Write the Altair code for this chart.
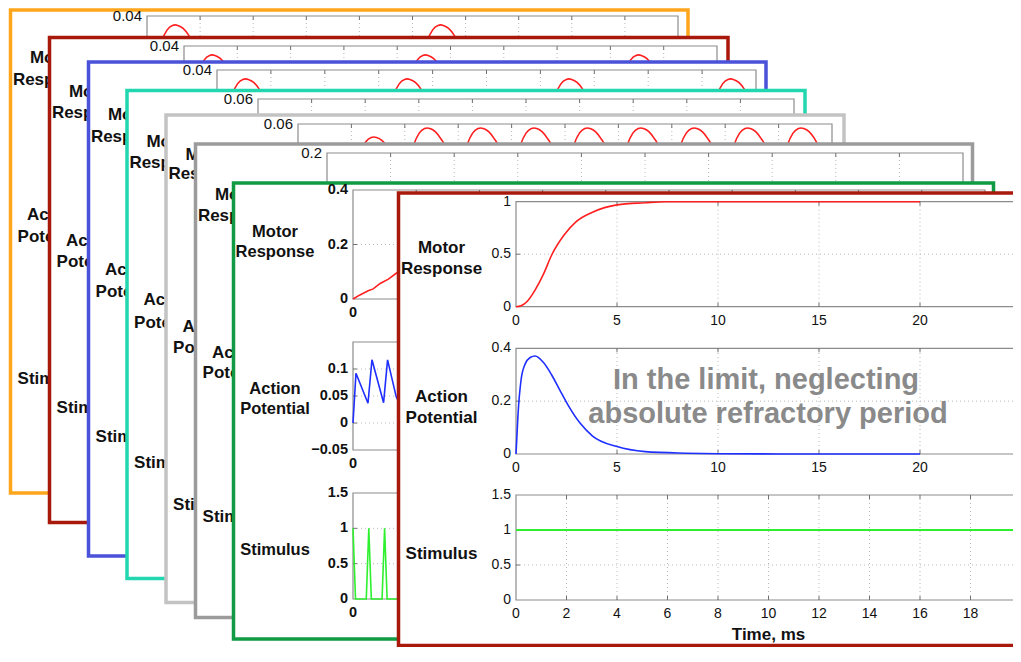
import altair as alt
import pandas as pd

FONT = "Liberation Sans"
TEXT = "#111111"
BOX = "#8c8c8c"
GRID = "#b8b8b8"
TICK = "#707070"
RED, BLUE, GREEN = "#ff1f1f", "#1f2fff", "#2ef02e"
NOTE = "#8a8a8a"

# ================= values =================
# Front card: the limit case (continuous stimulation), time in ms
FRONT_MOTOR_T = [0, 0.25, 0.55, 0.95, 1.36, 1.76, 2.37, 2.98, 3.79, 5.0, 6.4, 7.4, 10, 15, 20]
FRONT_MOTOR_V = [0, 0.01, 0.05, 0.16, 0.31, 0.49, 0.68, 0.81, 0.90, 0.97, 0.99, 1.0, 1.0, 1.0, 1.0]
FRONT_AP_T = [0, 0.1, 0.25, 0.45, 0.7, 0.95, 1.36, 1.76, 2.17, 2.57, 3.18, 3.79, 5.0, 6.4, 8.4, 10, 15, 20]
FRONT_AP_V = [0, 0.15, 0.28, 0.34, 0.365, 0.371, 0.346, 0.30, 0.242, 0.186, 0.116, 0.068, 0.028,
              0.009, 0.003, 0.001, 0, 0]
FRONT_STIM_T = [0, 20]
FRONT_STIM_V = [1, 1]
FRONT_X_TICKS = [0, 5, 10, 15, 20, 25]
FRONT_STIM_X_TICKS = [0, 2, 4, 6, 8, 10, 12, 14, 16, 18, 20]
FRONT_MOTOR_Y_TICKS = [0, 0.5, 1]
FRONT_AP_Y_TICKS = [0, 0.2, 0.4]
STIM_Y_TICKS = [0, 0.5, 1, 1.5]
TIME_TITLE = "Time, ms"
NOTE_LINES = ["In the limit, neglecting", "absolute refractory period"]

# Green card: stimulation every ~2.5 ms (only the first ms are visible)
GREEN_MOTOR_T = [0, 1.1, 2.4, 3.2, 4.3, 5.6, 7.0, 8.5, 10]
GREEN_MOTOR_V = [0, 0.015, 0.03, 0.037, 0.057, 0.073, 0.097, 0.112, 0.135]
GREEN_AP_T = [0, 0.47, 2.37, 3.0, 4.84, 5.47, 6.85, 7.35, 8.0, 9.85]
GREEN_AP_V = [0, 0.092, 0.0365, 0.117, 0.0376, 0.117, 0.048, 0.037, 0.117, 0.037]
GREEN_STIM_T = [0, 0.4, 2.1, 2.5, 2.9, 4.6, 5.0, 5.4, 7.1, 7.5, 7.9, 9.6, 10.0, 10.4]
GREEN_STIM_V = [1, 0, 0, 1, 0, 0, 1, 0, 0, 1, 0, 0, 1, 0]
GREEN_MOTOR_Y_TICKS = [0, 0.2, 0.4]
GREEN_AP_Y_TICKS = [-0.05, 0, 0.05, 0.1]
BG_X_TICKS = [0, 10, 20, 30, 40, 50, 60, 70, 80, 90, 100]
BG_X_LABELS = [0]          # only the first label is not hidden by the card in front

# Back cards 1-6: motor-response twitches (only their tops show)
TWITCH_OFFSET = [-5.5, -4.5, -3.5, -2.5, -1.5, -0.5, 0, 0.5, 1.5, 2.5, 3.5, 4.5, 6.5, 9.5, 14.5, 24.5]
TWITCH_SHAPE = [0, 0.3, 0.62, 0.84, 0.95, 0.995, 1.0, 0.995, 0.965, 0.9, 0.8, 0.68, 0.45, 0.22, 0.06, 0]
CARD1_PEAKS = [5.3, 55.3]
CARD1_HEIGHTS = [0.0367, 0.0367]
CARD2_PEAKS = [5.3, 45.3, 85.3]
CARD2_HEIGHTS = [0.0367, 0.0367, 0.0367]
CARD3_PEAKS = [5.3, 35.3, 65.3, 95.3]
CARD3_HEIGHTS = [0.0367, 0.0367, 0.0367, 0.0367]
CARD5_PEAKS = [4.2, 14.2, 24.2, 34.2, 44.2, 54.2, 64.2, 74.2, 84.2, 94.2]
CARD5_HEIGHTS = [0.035, 0.0528, 0.0578, 0.0578, 0.0578, 0.0578, 0.0578, 0.0578, 0.0578, 0.0578]
CARD_PERIODS = [50, 40, 30, 20, 10, 5]
BG_YMAX = [0.04, 0.04, 0.04, 0.06, 0.06, 0.2]
BG_Y_TICKS = [[0, 0.02, 0.04], [0, 0.02, 0.04], [0, 0.02, 0.04],
              [0, 0.02, 0.04, 0.06], [0, 0.02, 0.04, 0.06], [0, 0.1, 0.2]]
BG_Y_LABELS = [[0.04], [0.04], [0.04], [0.06], [0.06], [0.2]]   # the visible ones

# ================= layout (page pixels) =================
CARD_COLORS = ["#FFA51C", "#A8190B", "#4A52D9", "#22D6B0", "#C3C3C3", "#9B9B9B", "#0F9A43", "#A8190B"]
CARD_L = [10.5, 49.5, 88.5, 127, 166, 195.5, 233.5, 398.5]
CARD_T = [10, 37.5, 62, 90.5, 115, 144, 183, 193]
CARD_R = [688, 728, 766, 805, 844, 972.5, 993.5, 1032]
CARD_B = [493, 522.5, 556, 578.5, 602.5, 617.5, 639, 645.5]
GROUP_TOP = [8, 31, 56, 84, 109, 138, 177, 187]
LAST_H = 460
BG_BOX_L = [147, 184, 217, 258, 298, 327]
BG_BOX_R = [678, 717, 756, 794, 832, 963]
BG_BOX_T = [16, 46, 70, 99, 124, 153]
BG_BOX_H = 108
LABEL_CX = [53.5, 92.5, 131.5, 170, 209, 238.5, 275, 441.5]
MOTOR_Y = [(58, 80), (92, 113), (115, 137), (142, 163), (155, 174), (195, 216), (232, 252), (248, 269)]
ACTION_Y = [(215, 237), (241, 262), (270, 292), (300, 323), (327, 348), (353, 373), (389, 409), (397, 418)]
STIM_Y = [379, 408, 437, 463, 505, 517, 550, 554]
CHART_W = 1005


def one_row():
    return pd.DataFrame({"k": [0]})


def series_df(t, v):
    return pd.DataFrame({"t": t, "v": v})


def twitch_series(peaks, heights, period):
    ts, vs = [], []
    for p, a in zip(peaks, heights):
        for off, f in zip(TWITCH_OFFSET, TWITCH_SHAPE):
            if off < period - 5.5:
                t = p + off
                if 0 <= t <= 100:
                    ts.append(t)
                    vs.append(a * f)
    return series_df(ts, vs)


def frame(G, i, clip):
    return alt.Chart(one_row()).mark_rect(fill="white", stroke=CARD_COLORS[i], strokeWidth=3.5,
                                          clip=clip).encode(
        x=alt.value(CARD_L[i] - 8), x2=alt.value(CARD_R[i] - 8),
        y=alt.value(CARD_T[i] - G), y2=alt.value(CARD_B[i] - G))


def text_at(G, cx, cy, txt, size=17, weight="bold", color=TEXT, clip=False):
    return alt.Chart(one_row()).mark_text(
        text=txt, font=FONT, fontSize=size, fontWeight=weight, color=color,
        align="center", baseline="middle", clip=clip).encode(x=alt.value(cx - 8), y=alt.value(cy - G))


def subplot(G, box, xdom, ydom, xticks, yticks, series=None, color=None, xlabels=None, ylabels=None,
            weight="normal", size=14, xpad=7, ypad=5, title=None, line_w=1.6, smooth=True, clip=False):
    bl, br, bt, bb = box
    xs = alt.Scale(domain=list(xdom), range=[bl - 8, br - 8], nice=False, zero=False)
    ys = alt.Scale(domain=list(ydom), range=[bb - G, bt - G], nice=False, zero=False)

    def X(f):
        return alt.X(f, scale=xs, axis=None)

    def Y(f):
        return alt.Y(f, scale=ys, axis=None)

    gx = [v for v in xticks if xdom[0] < v < xdom[1]]
    gy = [v for v in yticks if ydom[0] < v < ydom[1]]
    grid_df = pd.DataFrame({
        "x": gx + [xdom[0]] * len(gy), "x2": gx + [xdom[1]] * len(gy),
        "y": [ydom[0]] * len(gx) + gy, "y2": [ydom[1]] * len(gx) + gy})
    dx = 4 * (xdom[1] - xdom[0]) / (br - bl)
    dy = 4 * (ydom[1] - ydom[0]) / (bb - bt)
    rows = []
    for v in gx:
        rows.append((v, v, ydom[1], ydom[1] - dy))
        rows.append((v, v, ydom[0], ydom[0] + dy))
    for v in gy:
        rows.append((xdom[0], xdom[0] + dx, v, v))
        rows.append((xdom[1], xdom[1] - dx, v, v))
    tick_df = pd.DataFrame(rows, columns=["x", "x2", "y", "y2"])
    box_df = pd.DataFrame({"x0": [xdom[0]], "x1": [xdom[1]], "y0": [ydom[0]], "y1": [ydom[1]]})

    layers = [
        alt.Chart(grid_df).mark_rule(color=GRID, strokeWidth=1, strokeDash=[1, 3], clip=clip).encode(
            x=X("x:Q"), x2="x2:Q", y=Y("y:Q"), y2="y2:Q"),
        alt.Chart(box_df).mark_rect(fillOpacity=0, stroke=BOX, strokeWidth=1.2, clip=clip).encode(
            x=X("x0:Q"), x2="x1:Q", y=Y("y0:Q"), y2="y1:Q"),
        alt.Chart(tick_df).mark_rule(color=TICK, strokeWidth=1, clip=clip).encode(
            x=X("x:Q"), x2="x2:Q", y=Y("y:Q"), y2="y2:Q"),
    ]
    if series is not None:
        layers.append(alt.Chart(series).mark_line(
            color=color, strokeWidth=line_w, clip=clip,
            interpolate="monotone" if smooth else "linear").encode(x=X("t:Q"), y=Y("v:Q")))

    # tick labels, placed through the same scales
    tstyle = dict(font=FONT, fontSize=size, fontWeight=weight, color=TEXT, clip=clip)
    yl = list(ylabels if ylabels is not None else yticks)
    ylab_df = pd.DataFrame({"val": yl, "pos": [xdom[0]] * len(yl)})
    layers.append(alt.Chart(ylab_df).mark_text(align="right", baseline="middle", dx=-ypad, **tstyle).encode(
        x=X("pos:Q"), y=Y("val:Q"), text=alt.Text("val:Q", format="~g")))
    xl = list(xlabels if xlabels is not None else xticks)
    if xl:
        xlab_df = pd.DataFrame({"val": xl, "pos": [ydom[0]] * len(xl)})
        layers.append(alt.Chart(xlab_df).mark_text(align="center", baseline="top", dy=xpad, **tstyle).encode(
            x=X("val:Q"), y=Y("pos:Q"), text=alt.Text("val:Q", format="~g")))
    if title:
        title_df = pd.DataFrame({"pos": [(xdom[0] + xdom[1]) / 2], "ypos": [ydom[0]]})
        layers.append(alt.Chart(title_df).mark_text(
            text=title, align="center", baseline="top", dy=26.5, font=FONT, fontSize=17,
            fontWeight="bold", color=TEXT, clip=clip).encode(x=X("pos:Q"), y=Y("ypos:Q")))
    return alt.layer(*layers)


H = [GROUP_TOP[i + 1] - GROUP_TOP[i] for i in range(7)] + [LAST_H]


def card(i, subplots, extra=(), lsize=17, clip=False):
    G = GROUP_TOP[i]
    cx = LABEL_CX[i]
    labels = [
        text_at(G, cx, MOTOR_Y[i][0], "Motor", size=lsize, clip=clip),
        text_at(G, cx, MOTOR_Y[i][1], "Response", size=lsize, clip=clip),
        text_at(G, cx, ACTION_Y[i][0], "Action", size=lsize, clip=clip),
        text_at(G, cx, ACTION_Y[i][1], "Potential", size=lsize, clip=clip),
        text_at(G, cx, STIM_Y[i], "Stimulus", size=lsize, clip=clip),
    ]
    return alt.layer(frame(G, i, clip), *subplots, *labels, *extra).resolve_scale(
        x="independent", y="independent").properties(width=CHART_W, height=H[i])


bg_series = {
    0: twitch_series(CARD1_PEAKS, CARD1_HEIGHTS, CARD_PERIODS[0]),
    1: twitch_series(CARD2_PEAKS, CARD2_HEIGHTS, CARD_PERIODS[1]),
    2: twitch_series(CARD3_PEAKS, CARD3_HEIGHTS, CARD_PERIODS[2]),
    4: twitch_series(CARD5_PEAKS, CARD5_HEIGHTS, CARD_PERIODS[4]),
}

cards = []
for i in range(6):
    G = GROUP_TOP[i]
    box = (BG_BOX_L[i], BG_BOX_R[i], BG_BOX_T[i], BG_BOX_T[i] + BG_BOX_H)
    sp = subplot(G, box, (0, 100), (0, BG_YMAX[i]), BG_X_TICKS, BG_Y_TICKS[i],
                 series=bg_series.get(i), color=RED, xlabels=[], ylabels=BG_Y_LABELS[i], size=15)
    cards.append(card(i, [sp]))

# green card
G = GROUP_TOP[6]
gkw = dict(weight="bold", size=14.5, xlabels=BG_X_LABELS, smooth=False)
cards.append(card(6, [
    subplot(G, (353, 985, 190, 299), (0, 100), (0, 0.4), BG_X_TICKS, GREEN_MOTOR_Y_TICKS,
            series_df(GREEN_MOTOR_T, GREEN_MOTOR_V), RED, **gkw),
    subplot(G, (353, 985, 342, 450), (0, 100), (-0.05, 0.15), BG_X_TICKS, GREEN_AP_Y_TICKS,
            series_df(GREEN_AP_T, GREEN_AP_V), BLUE, **gkw),
    subplot(G, (353, 985, 493, 599), (0, 100), (0, 1.5), BG_X_TICKS, STIM_Y_TICKS,
            series_df(GREEN_STIM_T, GREEN_STIM_V), GREEN, **gkw),
], lsize=16.5))

# front card
G = GROUP_TOP[7]
cards.append(card(7, [
    subplot(G, (516, 1021, 201.7, 306.7), (0, 25), (0, 1), FRONT_X_TICKS, FRONT_MOTOR_Y_TICKS,
            series_df(FRONT_MOTOR_T, FRONT_MOTOR_V), RED, clip=True),
    subplot(G, (516, 1021, 348.3, 454), (0, 25), (0, 0.4), FRONT_X_TICKS, FRONT_AP_Y_TICKS,
            series_df(FRONT_AP_T, FRONT_AP_V), BLUE, clip=True),
    subplot(G, (516, 1021, 495, 600), (0, 20), (0, 1.5), FRONT_STIM_X_TICKS, STIM_Y_TICKS,
            series_df(FRONT_STIM_T, FRONT_STIM_V), GREEN, title=TIME_TITLE, line_w=2, clip=True),
], extra=[
    text_at(G, 766, 380, NOTE_LINES[0], size=29, color=NOTE, clip=True),
    text_at(G, 768, 414, NOTE_LINES[1], size=29, color=NOTE, clip=True),
], clip=True))

chart = alt.vconcat(*cards, spacing=0, bounds="flush").configure_view(
    strokeWidth=0).properties(padding=0, background="white")

chart.save("out.html", embed_options={"renderer": "svg", "actions": False})
